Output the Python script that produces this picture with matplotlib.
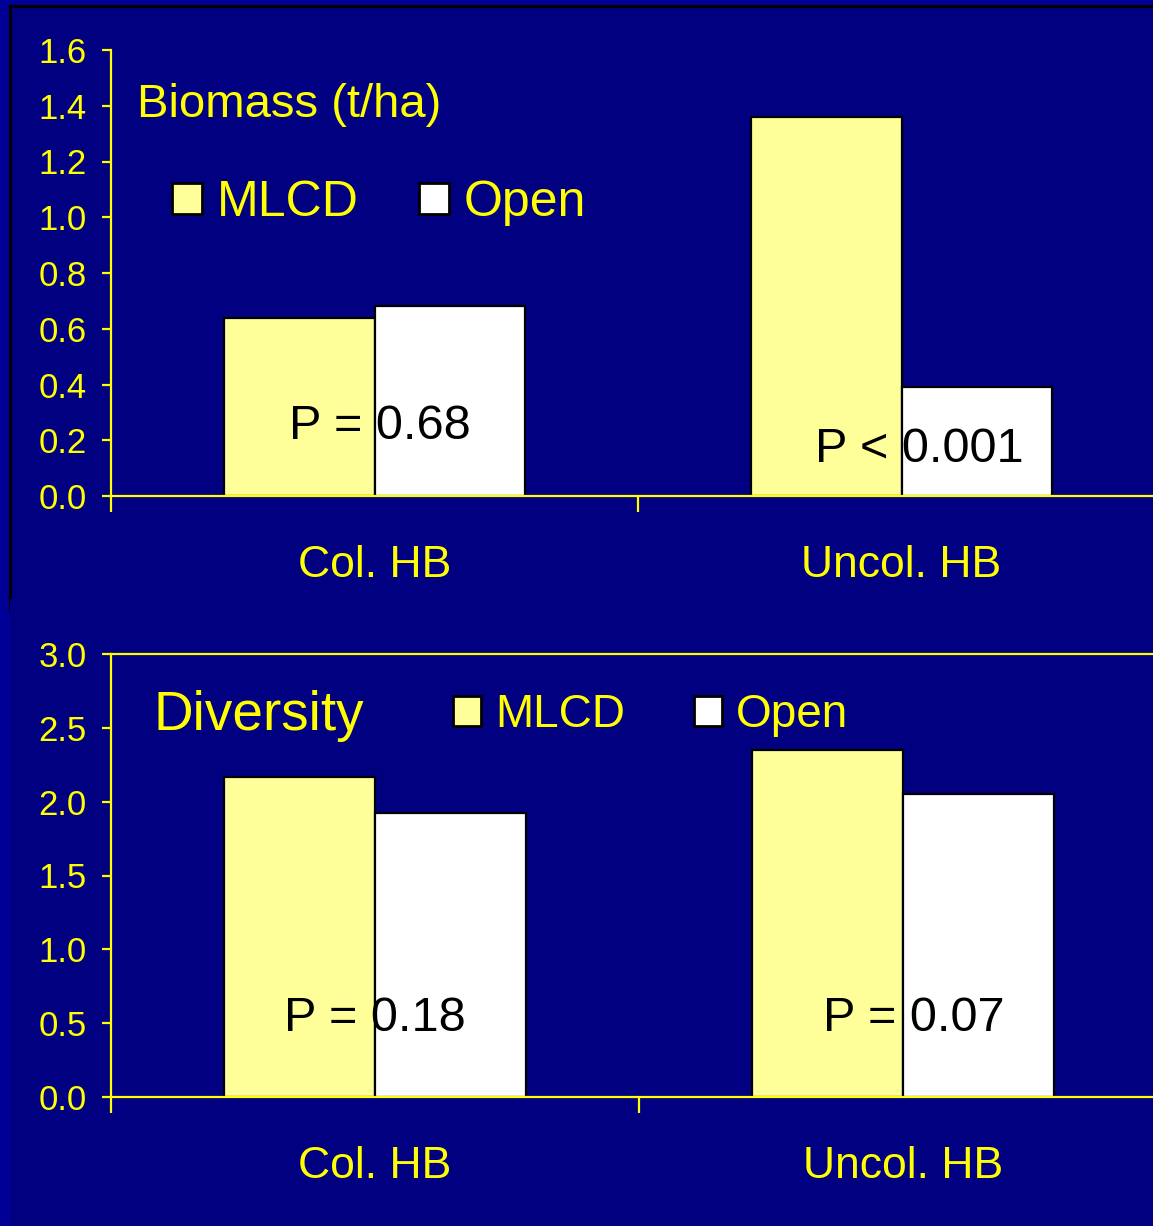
import matplotlib.pyplot as plt
from matplotlib.patches import Rectangle, Patch
from matplotlib.ticker import FormatStrFormatter, FixedLocator

plt.rcParams['font.family'] = ['Liberation Sans', 'DejaVu Sans']

# data
groups = ['Col. HB', 'Uncol. HB']
series = ['MLCD', 'Open']
biomass_mlcd = [0.64, 1.36]
biomass_open = [0.68, 0.39]
diversity_mlcd = [2.17, 2.35]
diversity_open = [1.92, 2.05]
biomass_p = ['P = 0.68', 'P < 0.001']
diversity_p = ['P = 0.18', 'P = 0.07']

W, H = 1153, 1226
YEL = '#FFFF00'
NAVY = '#000080'
colors = ['#FFFF99', '#FFFFFF']


def fx(x):
    return x / W


def fy(y):
    return 1 - y / H


fig = plt.figure(figsize=(W / 100, H / 100), dpi=100, facecolor='#000096')

# slide boxes behind the two charts
fig.patches.append(Rectangle((fx(10), fy(610)), 1, fy(6) - fy(610),
                             transform=fig.transFigure, fc=NAVY, ec='black',
                             lw=2.2, zorder=-2))
fig.patches.append(Rectangle((fx(10), 0), 1, fy(599),
                             transform=fig.transFigure, fc=NAVY, ec='none',
                             zorder=-1))


def panel(rect, mlcd, opn, ymax, step, ptexts, p_x, p_y, top_spine):
    ax = fig.add_axes(rect)
    ax.set_facecolor('none')
    x = [i + 0.5 for i in range(len(groups))]
    w = 0.286
    ax.bar([v - w / 2 for v in x], mlcd, w, color=colors[0], ec='black',
           lw=1.6, zorder=2)
    ax.bar([v + w / 2 for v in x], opn, w, color=colors[1], ec='black',
           lw=1.6, zorder=2)
    ax.set_xlim(0, len(groups))
    ax.set_ylim(0, ymax)
    n = int(round(ymax / step))
    ax.set_yticks([i * step for i in range(n + 1)])
    ax.yaxis.set_major_formatter(FormatStrFormatter('%.1f'))
    ax.set_xticks(x)
    ax.set_xticklabels(groups)
    ax.xaxis.set_minor_locator(FixedLocator(range(len(groups) + 1)))
    ax.tick_params(axis='x', which='major', length=0, pad=35,
                   labelsize=32, labelcolor=YEL)
    ax.tick_params(axis='x', which='minor', length=11.5, width=1.6,
                   color=YEL, direction='out')
    ax.tick_params(axis='y', length=6.5, width=1.6, color=YEL, pad=11,
                   labelsize=25, labelcolor=YEL)
    for s in ['left', 'bottom', 'top']:
        ax.spines[s].set_color(YEL)
        ax.spines[s].set_linewidth(1.6)
    ax.spines['right'].set_visible(False)
    ax.spines['top'].set_visible(top_spine)
    for i, t in enumerate(ptexts):
        ax.text(i + p_x[i], p_y[i], t, ha='center', va='center',
                fontsize=35, color='black', zorder=3)
    return ax


ax1 = panel([fx(111), fy(496), (1165 - 111) / W, (496 - 50) / H],
            biomass_mlcd, biomass_open, 1.6, 0.2, biomass_p,
            [0.51, 0.533], [0.25, 0.166], False)
ax2 = panel([fx(111), fy(1097), (1167 - 111) / W, (1097 - 654) / H],
            diversity_mlcd, diversity_open, 3.0, 0.5, diversity_p,
            [0.5, 0.52], [0.533, 0.533], True)

fig.text(fx(137), fy(105), 'Biomass (t/ha)', color=YEL, fontsize=34,
         ha='left', va='center')
fig.text(fx(153), fy(716), 'Diversity', color=YEL, fontsize=39.5,
         ha='left', va='center')

handles = [Patch(fc=c, ec='black', lw=2) for c in colors]
ax1.legend(handles, series, loc='center left',
           bbox_to_anchor=(fx(172), fy(203)), bbox_transform=fig.transFigure,
           ncol=2, frameon=False, fontsize=36, labelcolor=YEL,
           handlelength=0.6, handleheight=0.6, handletextpad=0.3,
           columnspacing=1.2, borderpad=0, borderaxespad=0)
ax2.legend(handles, series, loc='center left',
           bbox_to_anchor=(fx(453), fy(715)), bbox_transform=fig.transFigure,
           ncol=2, frameon=False, fontsize=33, labelcolor=YEL,
           handlelength=0.62, handleheight=0.62, handletextpad=0.3,
           columnspacing=1.5, borderpad=0, borderaxespad=0)

plt.savefig('out.png', dpi=100, facecolor=fig.get_facecolor())
